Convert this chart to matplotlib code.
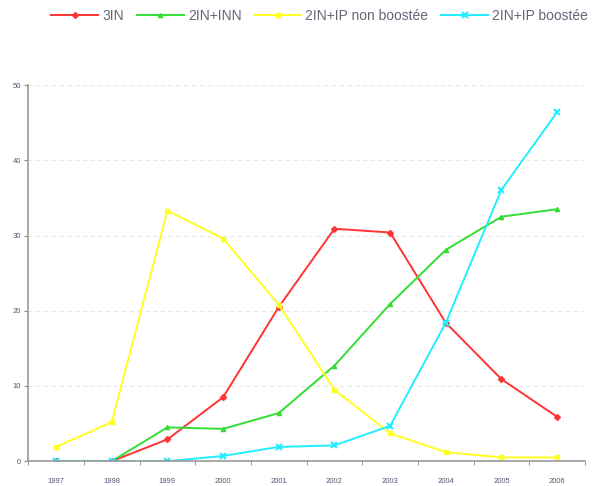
import matplotlib
matplotlib.use("Agg")
from matplotlib import pyplot as plt

plt.rcParams['font.family'] = ['Liberation Sans', 'DejaVu Sans']

annees = ["1997", "1998", "1999", "2000", "2001", "2002", "2003", "2004", "2005", "2006"]
serie_3in = [0, 0, 2.9, 8.5, 20.5, 30.9, 30.4, 18.4, 10.9, 5.9]
serie_2in_inn = [0, 0, 4.5, 4.3, 6.4, 12.7, 20.9, 28.1, 32.5, 33.5]
serie_ip_non_boostee = [1.9, 5.2, 33.3, 29.6, 20.8, 9.5, 3.7, 1.2, 0.5, 0.5]
serie_ip_boostee = [0, 0, 0, 0.7, 1.9, 2.1, 4.7, 18.4, 36.1, 46.4]
yticks = [0, 10, 20, 30, 40, 50]

fig = plt.figure(figsize=(6, 4.86), dpi=100)
ax = fig.add_axes([0.047, 0.051, 0.928, 0.774])

x = list(range(len(annees)))
ax.plot(x, serie_3in, color="#ff3333", marker="D", markersize=3, lw=1.4, label="3IN")
ax.plot(x, serie_2in_inn, color="#33dd33", marker="^", markersize=3, lw=1.4, label="2IN+INN")
ax.plot(x, serie_ip_non_boostee, color="#ffff22", marker="s", markersize=3, lw=1.4, label="2IN+IP non boostée")
ax.plot(x, serie_ip_boostee, color="#22eeff", marker="x", markersize=5, mew=1.5, lw=1.4, label="2IN+IP boostée")

ax.set_xlim(-0.5, len(annees) - 0.5)
ax.set_ylim(0, 50)
ax.set_yticks(yticks)
ax.set_yticklabels([str(v) for v in yticks], fontsize=5.5, color="#555577")
ax.set_xticks(x)
ax.set_xticklabels(annees, fontsize=5.5, color="#555577")
ax.set_xticks([i - 0.5 for i in range(len(annees) + 1)], minor=True)
ax.tick_params(axis="x", which="major", length=0, pad=12)
ax.tick_params(axis="x", which="minor", length=3, color="#888888")
ax.tick_params(axis="y", length=3, color="#888888", pad=2)
ax.grid(axis="y", color="#e8e8e8", linestyle=(0, (4, 3)), lw=0.8)
for s in ["top", "right"]:
    ax.spines[s].set_visible(False)
for s in ["left", "bottom"]:
    ax.spines[s].set_color("#999999")
    ax.spines[s].set_linewidth(1.2)

fig.legend(loc="center left", bbox_to_anchor=(0.085, 0.967), ncol=4, frameon=False,
           fontsize=10, handlelength=3.4, columnspacing=0.9, handletextpad=0.3,
           labelcolor="#666677", borderaxespad=0, borderpad=0)

fig.savefig("out.png", dpi=100)
